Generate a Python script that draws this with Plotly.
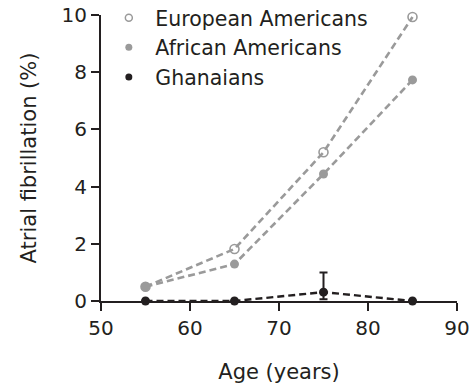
import plotly.graph_objects as go

ages = [55, 65, 75, 85]
european = [0.5, 1.82, 5.2, 9.93]
african = [0.5, 1.29, 4.44, 7.73]
ghanaian = [0.0, 0.0, 0.31, 0.0]
ghana_err_plus = [0, 0, 0.69, 0]
ghana_err_minus = [0, 0, 0.25, 0]
x_ticks = [50, 60, 70, 80, 90]
y_ticks = [0, 2, 4, 6, 8, 10]
series_names = ["European Americans", "African Americans", "Ghanaians"]

GRAY = "#9a9a9a"
DARK = "#231f20"
FONT = "DejaVu Sans"

fig = go.Figure()
fig.add_trace(go.Scatter(x=ages, y=european, mode="lines+markers", showlegend=False,
                         line=dict(color=GRAY, width=2.6, dash="7px,4px"),
                         marker=dict(symbol="circle-open", size=9, color=GRAY, line=dict(width=1.6)),
                         cliponaxis=False))
fig.add_trace(go.Scatter(x=ages, y=african, mode="lines+markers", showlegend=False,
                         line=dict(color=GRAY, width=2.6, dash="7px,4px"),
                         marker=dict(symbol="circle", size=9, color=GRAY),
                         cliponaxis=False))
fig.add_trace(go.Scatter(x=ages, y=ghanaian, mode="lines+markers", showlegend=False,
                         line=dict(color=DARK, width=2.4, dash="7px,4px"),
                         marker=dict(symbol="circle", size=9, color=DARK),
                         error_y=dict(type="data", array=ghana_err_plus, arrayminus=ghana_err_minus,
                                      color=DARK, thickness=2, width=4),
                         cliponaxis=False))
# legend-only entries (marker only)
fig.add_trace(go.Scatter(x=[None], y=[None], mode="markers", name=" " + series_names[0],
                         marker=dict(symbol="circle-open", size=7, color=GRAY, line=dict(width=1.5))))
fig.add_trace(go.Scatter(x=[None], y=[None], mode="markers", name=" " + series_names[1],
                         marker=dict(symbol="circle", size=7, color=GRAY)))
fig.add_trace(go.Scatter(x=[None], y=[None], mode="markers", name=" " + series_names[2],
                         marker=dict(symbol="circle", size=7, color=DARK)))

fig.update_layout(
    width=475, height=386,
    margin=dict(l=101, r=18, t=15, b=85, autoexpand=False),
    paper_bgcolor="white", plot_bgcolor="white",
    font=dict(family=FONT, size=21, color=DARK),
    legend=dict(x=0.022, y=1.06, xanchor="left", yanchor="top",
                bgcolor="rgba(0,0,0,0)", font=dict(size=20.5, family=FONT, color=DARK),
                tracegroupgap=0, itemsizing="trace"),
    xaxis=dict(range=[50, 90], tickvals=x_ticks, showgrid=False, zeroline=False,
               showline=True, linecolor=DARK, linewidth=2, ticks="outside",
               ticklen=8, tickwidth=2, tickcolor=DARK, automargin=False,
               ticklabeloverflow="allow",
               title=dict(text="Age (years)", standoff=25, font=dict(size=21)),
               tickfont=dict(size=20)),
    yaxis=dict(range=[0, 10], tickvals=y_ticks, showgrid=False, zeroline=False,
               showline=True, linecolor=DARK, linewidth=2, ticks="outside",
               ticklen=8, tickwidth=2, tickcolor=DARK, automargin=False,
               ticklabeloverflow="allow",
               title=dict(text="Atrial fibrillation (%)", standoff=19, font=dict(size=21)),
               tickfont=dict(size=20)),
)

fig.write_html("out.html", config={"displayModeBar": False},
               post_script="document.body.style.margin='0';document.body.style.overflow='hidden';")
